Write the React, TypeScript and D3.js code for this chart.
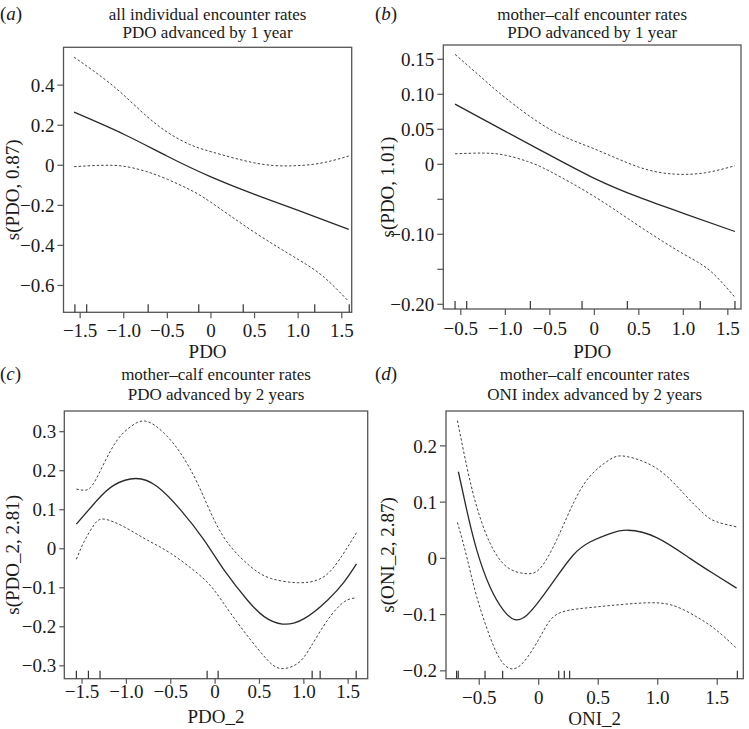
import React from "react";
import * as d3 from "d3";

// ---------- Panel (a): all individual encounter rates, PDO advanced by 1 year
const aTitle = ["all individual encounter rates", "PDO advanced by 1 year"];
const aXLabel = "PDO";
const aYLabel = "s(PDO, 0.87)";
const aXDomain = [-1.691, 1.614];
const aYDomain = [-0.734, 0.589];
const aXTicks = [-1.5, -1.0, -0.5, 0, 0.5, 1.0, 1.5];
const aXTickLabels = ["−1.5", "−1.0", "−0.5", "0", "0.5", "1.0", "1.5"];
const aYTicks = [-0.6, -0.4, -0.2, 0, 0.2, 0.4];
const aYTickLabels = ["−0.6", "−0.4", "−0.2", "0", "0.2", "0.4"];
const aRug = [-1.56, -1.425, -0.72, -0.14, 0.37, 1.19, 1.586];
const aFitX = [-1.57, -1.0, -0.5, 0, 0.5, 1.0, 1.58];
const aFitY = [0.265, 0.155, 0.045, -0.058, -0.145, -0.225, -0.32];
const aUpX = [-1.57, -1.25, -1.0, -0.75, -0.5, -0.25, 0, 0.5, 0.9, 1.25, 1.58];
const aUpY = [0.54, 0.44, 0.35, 0.25, 0.165, 0.105, 0.068, 0.012, -0.003, 0.01, 0.046];
const aLoX = [-1.57, -1.25, -1.0, -0.75, -0.5, -0.25, 0, 0.5, 1.0, 1.3, 1.58];
const aLoY = [-0.007, 0.0, -0.005, -0.03, -0.07, -0.12, -0.185, -0.335, -0.47, -0.56, -0.68];

// ---------- Panel (b): mother–calf encounter rates, PDO advanced by 1 year
const bTitle = ["mother–calf encounter rates", "PDO advanced by 1 year"];
const bXLabel = "PDO";
const bYLabel = "s(PDO, 1.01)";
const bXDomain = [-1.697, 1.648];
const bYDomain = [-0.2067, 0.1704];
const bXTicks = [-1.5, -1.0, -0.5, 0, 0.5, 1.0, 1.5];
const bXTickLabels = ["−0.5", "−1.0", "−0.5", "0", "0.5", "1.0", "1.5"];
const bYTicks = [-0.2, -0.15, -0.1, -0.05, 0, 0.05, 0.1, 0.15];
const bYTickLabels = ["−0.20", "", "−0.10", "", "0", "0.05", "0.10", "0.15"];
const bRug = [-1.565, -1.434, -0.719, -0.138, 0.371, 1.19, 1.58];
const bFitX = [-1.565, -1.0, -0.5, 0, 0.5, 1.0, 1.58];
const bFitY = [0.086, 0.047, 0.013, -0.02, -0.047, -0.07, -0.096];
const bUpX = [-1.565, -1.25, -1.0, -0.5, 0, 0.5, 0.9, 1.25, 1.58];
const bUpY = [0.157, 0.122, 0.095, 0.05, 0.022, -0.004, -0.014, -0.012, -0.002];
const bLoX = [-1.565, -1.25, -1.0, -0.75, -0.5, 0, 0.5, 1.0, 1.3, 1.58];
const bLoY = [0.015, 0.016, 0.013, 0.004, -0.01, -0.046, -0.088, -0.128, -0.152, -0.19];

// ---------- Panel (c): mother–calf encounter rates, PDO advanced by 2 years
const cTitle = ["mother–calf encounter rates", "PDO advanced by 2 years"];
const cXLabel = "PDO_2";
const cYLabel = "s(PDO_2, 2.81)";
const cXDomain = [-1.7, 1.72];
const cYDomain = [-0.333, 0.353];
const cXTicks = [-1.5, -1.0, -0.5, 0, 0.5, 1.0, 1.5];
const cXTickLabels = ["−1.5", "−1.0", "−0.5", "0", "0.5", "1.0", "1.5"];
const cYTicks = [-0.3, -0.2, -0.1, 0, 0.1, 0.2, 0.3];
const cYTickLabels = ["−0.3", "−0.2", "−0.1", "0", "0.1", "0.2", "0.3"];
const cRug = [-1.564, -1.428, -1.297, -0.09, 0.034, 1.094, 1.184, 1.59];
const cFitX = [-1.564, -1.327, -1.139, -0.895, -0.65, -0.387, -0.124, 0.102, 0.365, 0.553, 0.759, 1.004, 1.267, 1.455, 1.594];
const cFitY = [0.063, 0.125, 0.163, 0.18, 0.159, 0.099, 0.022, -0.055, -0.132, -0.174, -0.193, -0.179, -0.132, -0.085, -0.039];
const cUpX = [-1.564, -1.477, -1.383, -1.252, -1.102, -0.951, -0.782, -0.575, -0.387, -0.199, -0.011, 0.177, 0.402, 0.628, 0.929, 1.154, 1.342, 1.594];
const cUpY = [0.153, 0.15, 0.163, 0.219, 0.279, 0.313, 0.327, 0.296, 0.244, 0.168, 0.074, 0.005, -0.046, -0.076, -0.087, -0.08, -0.046, 0.041];
const cLoX = [-1.564, -1.477, -1.365, -1.252, -1.026, -0.763, -0.5, -0.199, -0.011, 0.177, 0.402, 0.59, 0.741, 0.929, 1.079, 1.267, 1.455, 1.594];
const cLoY = [-0.027, 0.018, 0.061, 0.076, 0.056, 0.022, -0.012, -0.063, -0.106, -0.166, -0.234, -0.285, -0.307, -0.294, -0.251, -0.183, -0.136, -0.126];

// ---------- Panel (d): mother–calf encounter rates, ONI index advanced by 2 years
const dTitle = ["mother–calf encounter rates", "ONI index advanced by 2 years"];
const dXLabel = "ONI_2";
const dYLabel = "s(ONI_2, 2.87)";
const dXDomain = [-0.779, 1.719];
const dYDomain = [-0.214, 0.262];
const dXTicks = [-0.5, 0, 0.5, 1.0, 1.5];
const dXTickLabels = ["−0.5", "0", "0.5", "1.0", "1.5"];
const dYTicks = [-0.2, -0.1, 0, 0.1, 0.2];
const dYTickLabels = ["−0.2", "−0.1", "0", "0.1", "0.2"];
const dRug = [-0.69, -0.676, -0.451, -0.303, 0.168, 0.215, 0.26, 1.669];
const dFitX = [-0.675, -0.605, -0.521, -0.409, -0.297, -0.2, -0.1, 0.011, 0.151, 0.291, 0.431, 0.6, 0.75, 0.991, 1.271, 1.467, 1.663];
const dFitY = [0.154, 0.086, 0.015, -0.051, -0.092, -0.109, -0.101, -0.074, -0.033, 0.006, 0.029, 0.044, 0.05, 0.037, 0.0, -0.027, -0.053];
const dUpX = [-0.683, -0.605, -0.521, -0.409, -0.269, -0.115, 0.011, 0.151, 0.291, 0.431, 0.6, 0.74, 0.991, 1.215, 1.383, 1.495, 1.663];
const dUpY = [0.245, 0.164, 0.092, 0.027, -0.015, -0.027, -0.018, 0.033, 0.098, 0.146, 0.176, 0.181, 0.16, 0.116, 0.08, 0.065, 0.056];
const dLoX = [-0.683, -0.605, -0.521, -0.409, -0.325, -0.241, -0.129, 0.011, 0.123, 0.263, 0.431, 0.7, 0.935, 1.131, 1.327, 1.495, 1.663];
const dLoY = [0.064, 0.003, -0.068, -0.14, -0.179, -0.196, -0.185, -0.14, -0.104, -0.092, -0.0875, -0.082, -0.079, -0.084, -0.104, -0.128, -0.16];

const FONT = "'Liberation Serif', 'Times New Roman', serif";
const BIG = 19;
const TITLE = 17;
const INK = "#1a1a1a";

type Box = { x0: number; x1: number; y0: number; y1: number };

function zip(xs: number[], ys: number[]): [number, number][] {
  return xs.map((x, i) => [x, ys[i]]);
}

function Panel(props: {
  letter: string;
  box: Box;
  ox: number;
  oy: number;
  title: string[];
  titleY: number[];
  xLabel: string;
  yLabel: string;
  xDomain: number[];
  yDomain: number[];
  xTicks: number[];
  xTickLabels: string[];
  yTicks: number[];
  yTickLabels: string[];
  rug: number[];
  fit: [number, number][];
  up: [number, number][];
  lo: [number, number][];
  xTickLabelOff: number;
  xLabelOff: number;
  tickLen: number;
}) {
  const { box } = props;
  const x = d3.scaleLinear().domain(props.xDomain).range([box.x0, box.x1]);
  const y = d3.scaleLinear().domain(props.yDomain).range([box.y1, box.y0]);
  const line = d3
    .line<[number, number]>()
    .x((d) => x(d[0]))
    .y((d) => y(d[1]))
    .curve(d3.curveNatural);
  const cx = (box.x0 + box.x1) / 2;
  const cy = (box.y0 + box.y1) / 2 + 10;
  return (
    <g>
      <text x={props.ox} y={props.oy} fontFamily={FONT} fontSize={BIG} fill={INK}>
        (<tspan fontStyle="italic">{props.letter}</tspan>)
      </text>
      {props.title.map((t, i) => (
        <text key={i} x={cx} y={props.titleY[i]} textAnchor="middle" fontFamily={FONT} fontSize={TITLE} fill={INK}>
          {t}
        </text>
      ))}
      <rect
        x={box.x0}
        y={box.y0}
        width={box.x1 - box.x0}
        height={box.y1 - box.y0}
        fill="none"
        stroke="#555"
        strokeWidth={1.3}
      />
      {props.xTicks.map((t, i) => (
        <g key={"xt" + i}>
          <line x1={x(t)} x2={x(t)} y1={box.y1} y2={box.y1 + props.tickLen} stroke="#555" strokeWidth={1.2} />
          <text
            x={x(t)}
            y={box.y1 + props.xTickLabelOff}
            textAnchor="middle"
            fontFamily={FONT}
            fontSize={BIG}
            fill={INK}
          >
            {props.xTickLabels[i]}
          </text>
        </g>
      ))}
      {props.yTicks.map((t, i) => (
        <g key={"yt" + i}>
          <line x1={box.x0 - props.tickLen} x2={box.x0} y1={y(t)} y2={y(t)} stroke="#555" strokeWidth={1.2} />
          <text
            x={box.x0 - props.tickLen - 3}
            y={y(t)}
            dy="0.35em"
            textAnchor="end"
            fontFamily={FONT}
            fontSize={BIG}
            fill={INK}
          >
            {props.yTickLabels[i]}
          </text>
        </g>
      ))}
      {props.rug.map((r, i) => (
        <line key={"r" + i} x1={x(r)} x2={x(r)} y1={box.y1} y2={box.y1 - 8} stroke="#333" strokeWidth={1.2} />
      ))}
      <path d={line(props.up) || ""} fill="none" stroke="#444" strokeWidth={1} strokeDasharray="2.5,2" />
      <path d={line(props.lo) || ""} fill="none" stroke="#444" strokeWidth={1} strokeDasharray="2.5,2" />
      <path d={line(props.fit) || ""} fill="none" stroke="#2a2a2a" strokeWidth={1.3} />
      <text x={cx} y={box.y1 + props.xLabelOff} textAnchor="middle" fontFamily={FONT} fontSize={BIG} fill={INK}>
        {props.xLabel}
      </text>
      <text
        transform={`translate(${props.ox + 19},${cy}) rotate(-90)`}
        textAnchor="middle"
        fontFamily={FONT}
        fontSize={BIG}
        fill={INK}
      >
        {props.yLabel}
      </text>
    </g>
  );
}

export default function App() {
  return (
    <svg
      width={749}
      height={729}
      viewBox="0 0 749 729"
      style={{ position: "absolute", left: 0, top: 0, background: "#fff" }}
    >
      <rect x={0} y={0} width={749} height={729} fill="#fff" />
      <Panel
        letter="a"
        box={{ x0: 63.5, x1: 351.7, y0: 47.3, y1: 312.3 }}
        ox={0}
        oy={20}
        title={aTitle}
        titleY={[20, 38]}
        xLabel={aXLabel}
        yLabel={aYLabel}
        xDomain={aXDomain}
        yDomain={aYDomain}
        xTicks={aXTicks}
        xTickLabels={aXTickLabels}
        yTicks={aYTicks}
        yTickLabels={aYTickLabels}
        rug={aRug}
        fit={zip(aFitX, aFitY)}
        up={zip(aUpX, aUpY)}
        lo={zip(aLoX, aLoY)}
        xTickLabelOff={24.5}
        xLabelOff={46}
        tickLen={6}
      />
      <Panel
        letter="b"
        box={{ x0: 443.3, x1: 741, y0: 45, y1: 309 }}
        ox={375}
        oy={20}
        title={bTitle}
        titleY={[20, 38]}
        xLabel={bXLabel}
        yLabel={bYLabel}
        xDomain={bXDomain}
        yDomain={bYDomain}
        xTicks={bXTicks}
        xTickLabels={bXTickLabels}
        yTicks={bYTicks}
        yTickLabels={bYTickLabels}
        rug={bRug}
        fit={zip(bFitX, bFitY)}
        up={zip(bUpX, bUpY)}
        lo={zip(bLoX, bLoY)}
        xTickLabelOff={26}
        xLabelOff={49}
        tickLen={6}
      />
      <Panel
        letter="c"
        box={{ x0: 64.3, x1: 367.7, y0: 411, y1: 678.7 }}
        ox={0}
        oy={380}
        title={cTitle}
        titleY={[380, 400]}
        xLabel={cXLabel}
        yLabel={cYLabel}
        xDomain={cXDomain}
        yDomain={cYDomain}
        xTicks={cXTicks}
        xTickLabels={cXTickLabels}
        yTicks={cYTicks}
        yTickLabels={cYTickLabels}
        rug={cRug}
        fit={zip(cFitX, cFitY)}
        up={zip(cUpX, cUpY)}
        lo={zip(cLoX, cLoY)}
        xTickLabelOff={19}
        xLabelOff={44}
        tickLen={5}
      />
      <Panel
        letter="d"
        box={{ x0: 446, x1: 743.3, y0: 411, y1: 678.7 }}
        ox={375}
        oy={380}
        title={dTitle}
        titleY={[380, 400]}
        xLabel={dXLabel}
        yLabel={dYLabel}
        xDomain={dXDomain}
        yDomain={dYDomain}
        xTicks={dXTicks}
        xTickLabels={dXTickLabels}
        yTicks={dYTicks}
        yTickLabels={dYTickLabels}
        rug={dRug}
        fit={zip(dFitX, dFitY)}
        up={zip(dUpX, dUpY)}
        lo={zip(dLoX, dLoY)}
        xTickLabelOff={25}
        xLabelOff={46}
        tickLen={6}
      />
    </svg>
  );
}
